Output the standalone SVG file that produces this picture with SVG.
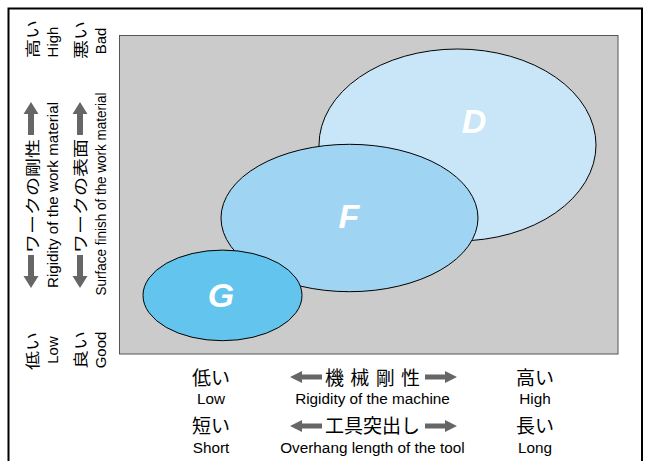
<svg xmlns="http://www.w3.org/2000/svg" xmlns:xlink="http://www.w3.org/1999/xlink" width="649" height="461" viewBox="0 0 649 461">
  <defs>
    <style>
      .jp { font-family: "Noto Sans CJK JP", "Noto Sans CJK SC", sans-serif; font-size: 19px; fill: #000; }
      .en { font-family: "Liberation Sans", Arial, sans-serif; font-size: 15.3px; fill: #000; }
      .enl { font-family: "Liberation Sans", Arial, sans-serif; font-size: 15px; fill: #000; }
      .lbl { font-family: "Liberation Sans", Arial, sans-serif; font-size: 34px; font-weight: bold; font-style: italic; fill: #fff; text-anchor: middle; }
      .node { stroke: #000; stroke-width: 1; }
      .arr { fill: #666; }
      .mid { text-anchor: middle; }
    </style>
    <path id="harr" d="M0,0 L12,-6 L12,-2.5 L32,-2.5 L32,2.5 L12,2.5 L12,6 Z"/>
    <path id="varr" d="M0,0 L-7.5,12 L-3,12 L-3,33 L3,33 L3,12 L7.5,12 Z"/>
  </defs>

  <rect x="0" y="0" width="649" height="461" fill="#fff"/>
  <rect id="frame" x="8.5" y="8.5" width="633.5" height="470" fill="none" stroke="#000" stroke-width="2"/>

  <rect id="plot" x="119.5" y="35.5" width="498.5" height="318.5" fill="#cbcbcb" stroke="#555" stroke-width="1"/>

  <g id="node-D">
    <ellipse class="node" cx="457.5" cy="145" rx="138.5" ry="96" fill="#c8e6f8"/>
    <text class="lbl" x="474" y="133">D</text>
  </g>
  <g id="node-F">
    <ellipse class="node" cx="349.5" cy="218" rx="128.5" ry="73.7" fill="#9fd5f2"/>
    <text class="lbl" x="349" y="228">F</text>
  </g>
  <g id="node-G">
    <ellipse class="node" cx="222.5" cy="295.4" rx="79.5" ry="45.3" fill="#63c4ee"/>
    <text class="lbl" x="221" y="307">G</text>
  </g>

  <g id="connectors">
    <use xlink:href="#varr" class="arr" transform="translate(31,102)"/>
    <use xlink:href="#varr" class="arr" transform="translate(31,288) scale(1,-1)"/>
    <use xlink:href="#varr" class="arr" transform="translate(80,102)"/>
    <use xlink:href="#varr" class="arr" transform="translate(80,288) scale(1,-1)"/>
    <use xlink:href="#harr" class="arr" transform="translate(290,377)"/>
    <use xlink:href="#harr" class="arr" transform="translate(457,377) scale(-1,1)"/>
    <use xlink:href="#harr" class="arr" transform="translate(290,426)"/>
    <use xlink:href="#harr" class="arr" transform="translate(457,426) scale(-1,1)"/>
  </g>

  <g id="y-axis-work-rigidity">
    <text class="jp mid" transform="translate(38,39) rotate(-90) scale(1,0.8)">高い</text>
    <text class="enl mid" transform="translate(57.5,42) rotate(-90)">High</text>
    <text class="jp mid" transform="translate(38,196) rotate(-90) scale(1,0.8)">ワークの剛性</text>
    <text class="enl mid" transform="translate(57.5,195) rotate(-90)" textLength="186" lengthAdjust="spacingAndGlyphs">Rigidity of the work material</text>
    <text class="jp mid" transform="translate(38,351) rotate(-90) scale(1,0.8)">低い</text>
    <text class="enl mid" transform="translate(57.5,350) rotate(-90)">Low</text>
  </g>

  <g id="y-axis-surface">
    <text class="jp mid" transform="translate(86,40) rotate(-90) scale(1,0.8)">悪い</text>
    <text class="enl mid" transform="translate(105.5,41) rotate(-90)">Bad</text>
    <text class="jp mid" transform="translate(86,196) rotate(-90) scale(1,0.8)">ワークの表面</text>
    <text class="enl mid" transform="translate(105.5,194) rotate(-90)" textLength="203" lengthAdjust="spacingAndGlyphs">Surface finish of the work material</text>
    <text class="jp mid" transform="translate(86,350) rotate(-90) scale(1,0.8)">良い</text>
    <text class="enl mid" transform="translate(105.5,350) rotate(-90)">Good</text>
  </g>

  <g id="x-axis-machine">
    <text class="jp mid" x="211" y="385">低い</text>
    <text class="en mid" x="211" y="403.5">Low</text>
    <text class="jp" x="325 350.3 375.7 401" y="385">機械剛性</text>
    <text class="en mid" x="372.5" y="403.5">Rigidity of the machine</text>
    <text class="jp mid" x="535" y="385">高い</text>
    <text class="en mid" x="535" y="403.5">High</text>
  </g>

  <g id="x-axis-overhang">
    <text class="jp mid" x="211" y="433">短い</text>
    <text class="en mid" x="211" y="453">Short</text>
    <text class="jp" x="325" y="433">工具突出し</text>
    <text class="en mid" x="372.5" y="453">Overhang length of the tool</text>
    <text class="jp mid" x="535" y="433">長い</text>
    <text class="en mid" x="535" y="453">Long</text>
  </g>
</svg>
